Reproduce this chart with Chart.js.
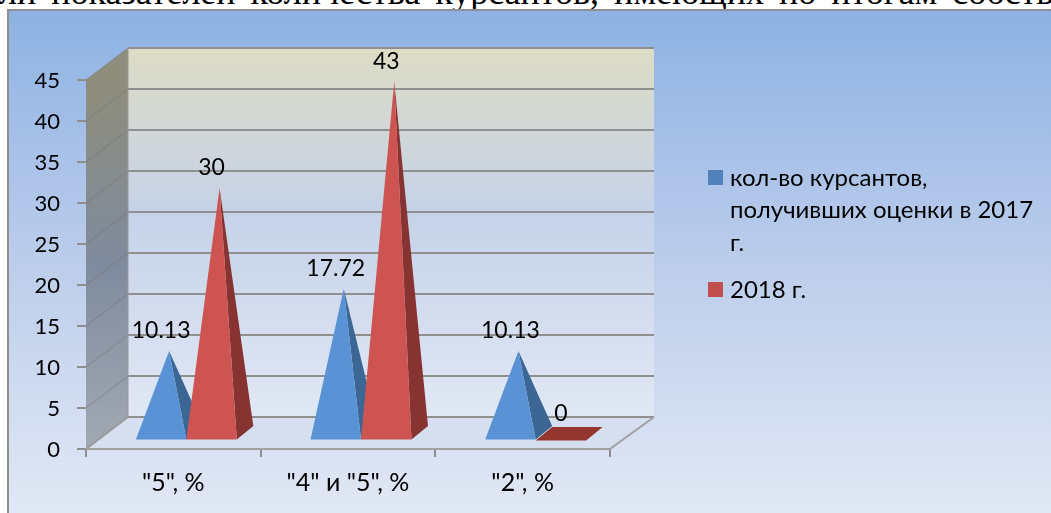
<!DOCTYPE html>
<html><head><meta charset="utf-8">
<style>
html,body{margin:0;padding:0;background:#fff;overflow:hidden;width:1051px;height:513px}
canvas{display:block;position:absolute;left:0;top:0}
#cut{position:absolute;left:-1px;top:-29px;width:1052px;height:42px;line-height:42px;overflow:hidden;white-space:nowrap;font-family:"Liberation Serif",serif;font-size:36px;color:#000;word-spacing:6px}
</style>
<script src="https://cdn.jsdelivr.net/npm/chart.js@4"></script>
</head><body>
<div id="cut">ли показателей количества курсантов, имеющих по итогам собств</div>
<canvas id="c" width="1051" height="513"></canvas>
<script>
const categories = ['"5", %', '"4" и "5", %', '"2", %'];
const seriesNames = ['кол-во курсантов, получивших оценки в 2017 г.', '2018 г.'];
const values2017 = [10.13, 17.72, 10.13];
const values2018 = [30, 43, 0];
const FONT = 'Lato, "Open Sans", sans-serif';

const D = {dx:42, dy:-32};          // depth of the 3D box
const frontF = {dx:13, dy:-8.5};    // front of the pyramids' bases
const backF  = {dx:29.5, dy:-22};   // back of the bases
const midF   = {dx:21, dy:-15};     // apex projection

function poly(ctx, pts, fill){
  ctx.beginPath();
  pts.forEach((p,i)=> i?ctx.lineTo(p[0],p[1]):ctx.moveTo(p[0],p[1]));
  ctx.closePath();
  ctx.fillStyle = fill; ctx.fill();
}
function line(ctx,x1,y1,x2,y2,c,w){
  ctx.beginPath();ctx.moveTo(x1,y1);ctx.lineTo(x2,y2);ctx.strokeStyle=c;ctx.lineWidth=w;ctx.stroke();
}
const faces = [{front:'#5a93d5',side:'#3c6694',key:'#4f81bd'},{front:'#cd5451',side:'#873331',key:'#c0504d'}];

const scene = {
  id:'scene',
  beforeDraw(chart){
    const {ctx,chartArea:a,scales:{y}} = chart;
    const W = chart.width, H = chart.height;
    const L=a.left,R=a.right,T=a.top,B=a.bottom;
    ctx.save();
    let g = ctx.createLinearGradient(0,10,0,H);
    g.addColorStop(0,'#8db2e3');g.addColorStop(0.5,'#bccdeb');g.addColorStop(1,'#e1e8f5');
    ctx.fillStyle=g;ctx.fillRect(8,10,W-8,H-10);
    line(ctx,8,10,W,10,'#8f8f8f',2);
    line(ctx,8,9,8,H,'#8f8f8f',2);
    // back wall
    g = ctx.createLinearGradient(0,T+D.dy,0,B+D.dy);
    g.addColorStop(0,'#dddcc6');g.addColorStop(0.45,'#c5d2e8');g.addColorStop(1,'#e1e8f5');
    ctx.fillStyle=g;ctx.fillRect(L+D.dx,T+D.dy,R-L+2,B-T);
    // side wall
    g = ctx.createLinearGradient(0,T,0,B);
    g.addColorStop(0,'#8f8e7c');g.addColorStop(0.5,'#7f8b9e');g.addColorStop(1,'#a1a9b3');
    poly(ctx,[[L,T],[L+D.dx,T+D.dy],[L+D.dx,B+D.dy],[L,B]],g);
    // floor
    poly(ctx,[[L,B],[L+D.dx,B+D.dy],[R+D.dx+2,B+D.dy],[R,B]],'#d5dff0');
    // gridlines from the value scale
    y.ticks.forEach(t=>{
      const py=y.getPixelForValue(t.value);
      line(ctx,L,py,L+D.dx,py+D.dy,t.value===0?'#9a9a9a':'rgba(110,110,110,.3)',t.value===0?2:1.5);
      line(ctx,L+D.dx,py+D.dy,R+D.dx+2,py+D.dy,'#8f8f8f',2);
    });
    line(ctx,L+D.dx,T+D.dy,L+D.dx,B+D.dy,'#999',1);
    line(ctx,R,B,R+D.dx+2,B+D.dy,'#a0a0a0',2);
    ctx.restore();
  },
  beforeDatasetsDraw(chart){
    const {ctx} = chart;
    ctx.save();
    chart.data.datasets.forEach((ds,di)=>{
      const meta = chart.getDatasetMeta(di);
      meta.data.forEach((el,i)=>{
        const l=el.x-el.width/2, r=el.x+el.width/2, b=el.base;
        const fl=[l+frontF.dx,b+frontF.dy], fr=[r+frontF.dx,b+frontF.dy];
        const bl=[l+backF.dx,b+backF.dy], br=[r+backF.dx,b+backF.dy];
        const apex=[el.x+midF.dx, el.y+midF.dy];
        if(ds.data[i]===0){
          poly(ctx,[fl,fr,br,bl],'#93372f');
        }else{
          poly(ctx,[fr,br,apex],faces[di].side);
          poly(ctx,[fl,fr,apex],faces[di].front);
        }
      });
    });
    ctx.fillStyle='#000';ctx.font='23px '+FONT;ctx.textAlign='center';ctx.textBaseline='middle';
    chart.data.datasets.forEach((ds,di)=>{
      chart.getDatasetMeta(di).data.forEach((el,i)=>{
        ctx.fillText(String(ds.data[i]), el.x+midF.dx-8, el.y+midF.dy-20);
      });
    });
    ctx.restore();
    return false;
  },
  afterDraw(chart){
    const {ctx}=chart;
    ctx.save();
    ctx.font='24px '+FONT;ctx.textBaseline='middle';ctx.textAlign='left';
    let y=178;
    chart.data.datasets.forEach((ds,di)=>{
      ctx.fillStyle=faces[di].key;
      ctx.fillRect(708,y-8,15,15);
      ctx.fillStyle='#000';
      let lines=[],cur='';
      ds.label.split(' ').forEach(w=>{
        const t=cur?cur+' '+w:w;
        if(ctx.measureText(t).width>312&&cur){lines.push(cur);cur=w;}else cur=t;
      });
      lines.push(cur);
      lines.forEach((s,k)=>ctx.fillText(s,730,y+k*32.5));
      y+=lines.length*32.5+14.5;
    });
    ctx.restore();
  }
};

new Chart(document.getElementById('c'),{
  type:'bar',
  data:{labels:categories,datasets:[
    {label:seriesNames[0],data:values2017,backgroundColor:'#4f81bd'},
    {label:seriesNames[1],data:values2018,backgroundColor:'#c0504d'}
  ]},
  options:{
    responsive:false,animation:false,
    layout:{padding:{left:0,top:80,right:441,bottom:0}},
    categoryPercentage:0.578,barPercentage:1,
    plugins:{legend:{display:false},tooltip:{enabled:false},title:{display:false}},
    scales:{
      x:{
        afterFit(s){s.height=64;},
        grid:{drawOnChartArea:false,drawTicks:true,tickLength:8,color:'#8f8f8f',lineWidth:2},
        border:{color:'#a0a0a0',width:2},
        ticks:{color:'#000',font:{family:FONT,size:25},padding:11,maxRotation:0}
      },
      y:{
        min:0,max:45,
        afterFit(s){s.width=86;},
        grid:{drawOnChartArea:false,tickLength:9,color:'#8f8f8f',lineWidth:2},
        border:{display:false},
        ticks:{stepSize:5,color:'#000',font:{family:FONT,size:22},padding:17,labelOffset:1}
      }
    }
  },
  plugins:[scene]
});
</script>
</body></html>
